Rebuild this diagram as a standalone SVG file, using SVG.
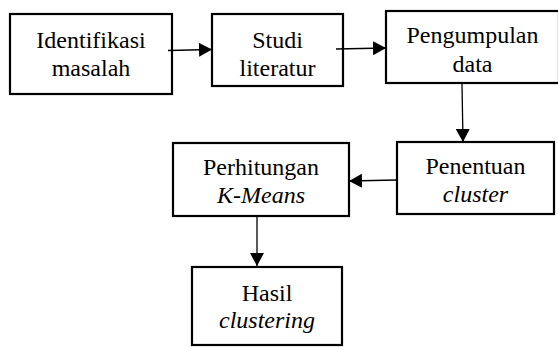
<svg xmlns="http://www.w3.org/2000/svg" width="558" height="347" viewBox="0 0 558 347">
<defs>
<marker id="ah" markerWidth="13" markerHeight="14" refX="13" refY="7" orient="auto" markerUnits="userSpaceOnUse">
<path d="M0,0 L13,7 L0,14 Z" fill="#000"/>
</marker>
<style>
.box{fill:#fff;stroke:#000;stroke-width:2.2}
.t{fill:#000;text-anchor:middle}
.c{stroke:#000;stroke-width:1.3;fill:none;marker-end:url(#ah)}
</style>
</defs>
<rect width="558" height="347" fill="#fff"/>
<g id="n1">
<rect class="box" x="10" y="14" width="162" height="80"/>
<text class="t" font-family="Liberation Serif" font-size="24" x="91" y="48">Identifikasi</text>
<text class="t" font-family="Liberation Serif" font-size="24" x="91" y="76">masalah</text>
</g>
<g id="n2">
<rect class="box" x="212" y="14" width="131" height="72"/>
<text class="t" font-family="Liberation Serif" font-size="24" x="277.5" y="48">Studi</text>
<text class="t" font-family="Liberation Serif" font-size="24" x="277.5" y="76">literatur</text>
</g>
<g id="n3">
<rect class="box" x="386" y="11" width="173" height="72"/>
<text class="t" font-family="Liberation Serif" font-size="24" x="472.5" y="43">Pengumpulan</text>
<text class="t" font-family="Liberation Serif" font-size="24" x="472.5" y="72">data</text>
</g>
<g id="n4">
<rect class="box" x="397" y="142" width="157" height="72"/>
<text class="t" font-family="Liberation Serif" font-size="24" x="475.5" y="174">Penentuan</text>
<text class="t" font-family="Liberation Serif" font-size="24" font-style="italic" x="475.5" y="202">cluster</text>
</g>
<g id="n5">
<rect class="box" x="173" y="143" width="176" height="73"/>
<text class="t" font-family="Liberation Serif" font-size="24" x="261" y="175">Perhitungan</text>
<text class="t" font-family="Liberation Serif" font-size="24" font-style="italic" x="261" y="203">K-Means</text>
</g>
<g id="n6">
<rect class="box" x="192" y="267" width="150" height="78"/>
<text class="t" font-family="Liberation Serif" font-size="24" x="267" y="301">Hasil</text>
<text class="t" font-family="Liberation Serif" font-size="24" font-style="italic" x="267" y="328">clustering</text>
</g>
<g id="connectors">
<line class="c" x1="168" y1="50.5" x2="212" y2="49.5"/>
<line class="c" x1="336" y1="49" x2="386" y2="48"/>
<line class="c" x1="462" y1="84" x2="463" y2="142"/>
<line class="c" x1="397" y1="180" x2="349" y2="181"/>
<line class="c" x1="257" y1="216" x2="257" y2="266"/>
</g>
</svg>
